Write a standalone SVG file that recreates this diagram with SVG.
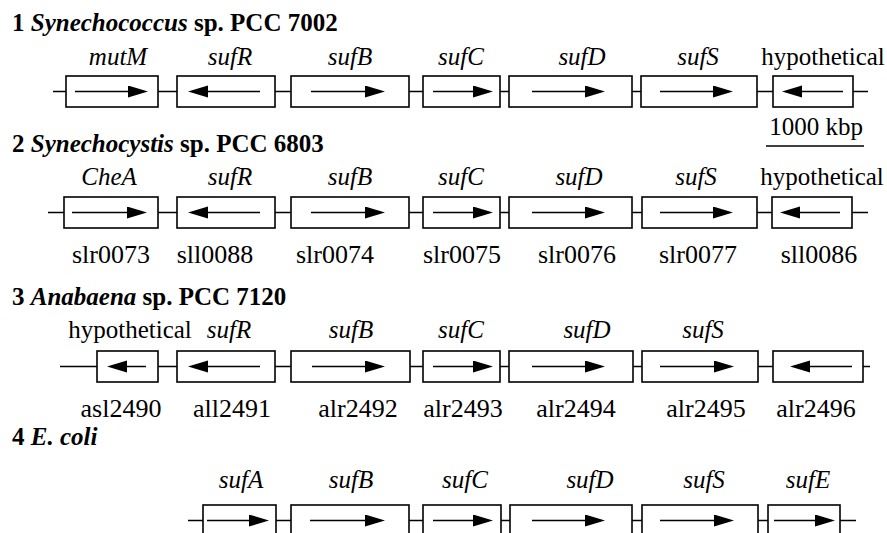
<svg xmlns="http://www.w3.org/2000/svg" width="887" height="533" viewBox="0 0 887 533">
<defs>
<marker id="head" markerUnits="userSpaceOnUse" markerWidth="22" markerHeight="14" refX="10" refY="6" orient="auto">
<path d="M0,0 L20,6 L0,12 Z" fill="#000"/>
</marker>
</defs>
<rect width="887" height="533" fill="#fff"/>

<g id="titles" fill="#000">
<text x="12" y="31" font-family="Liberation Serif" font-weight="bold" font-size="25">1 <tspan font-style="italic">Synechococcus</tspan> sp. PCC 7002</text>
<text x="12" y="152" font-family="Liberation Serif" font-weight="bold" font-size="25">2 <tspan font-style="italic">Synechocystis</tspan> sp. PCC 6803</text>
<text x="12" y="305" font-family="Liberation Serif" font-weight="bold" font-size="25">3 <tspan font-style="italic">Anabaena</tspan> sp. PCC  7120</text>
<text x="12" y="445" font-family="Liberation Serif" font-weight="bold" font-size="25">4 <tspan font-style="italic">E. coli</tspan></text>
</g>

<g id="connectors" stroke="#000" stroke-width="1.5">
<line x1="53" y1="91.5" x2="868" y2="91.5"/>
<line x1="48" y1="212.5" x2="868" y2="212.5"/>
<line x1="60" y1="366.5" x2="870" y2="366.5"/>
<line x1="188" y1="520.5" x2="856" y2="520.5"/>
</g>

<g id="scale">
<text x="816" y="135" font-family="Liberation Serif" font-size="25" text-anchor="middle" fill="#000">1000 kbp</text>
<line x1="766" y1="146" x2="864" y2="146" stroke="#000" stroke-width="1.5"/>
</g>

<g id="boxes" fill="#fff" stroke="#000" stroke-width="1.6">
<rect id="r1-mutM" x="66" y="76" width="92" height="31"/>
<rect id="r1-sufR" x="177" y="76" width="98" height="31"/>
<rect id="r1-sufB" x="291" y="76" width="118" height="31"/>
<rect id="r1-sufC" x="423" y="76" width="77" height="31"/>
<rect id="r1-sufD" x="509" y="76" width="123" height="31"/>
<rect id="r1-sufS" x="641" y="76" width="116" height="31"/>
<rect id="r1-hyp" x="773" y="76" width="80" height="31"/>
<rect id="r2-CheA" x="64" y="197" width="94" height="31"/>
<rect id="r2-sufR" x="177" y="197" width="98" height="31"/>
<rect id="r2-sufB" x="291" y="197" width="118" height="31"/>
<rect id="r2-sufC" x="423" y="197" width="77" height="31"/>
<rect id="r2-sufD" x="509" y="197" width="123" height="31"/>
<rect id="r2-sufS" x="642" y="197" width="115" height="31"/>
<rect id="r2-hyp" x="772" y="197" width="80" height="31"/>
<rect id="r3-hyp" x="97" y="351" width="61" height="31"/>
<rect id="r3-sufR" x="177" y="351" width="98" height="31"/>
<rect id="r3-sufB" x="291" y="351" width="119" height="31"/>
<rect id="r3-sufC" x="423" y="351" width="77" height="31"/>
<rect id="r3-sufD" x="509" y="351" width="124" height="31"/>
<rect id="r3-sufS" x="642" y="351" width="116" height="31"/>
<rect id="r3-alr2496" x="773" y="351" width="90" height="31"/>
<rect id="r4-sufA" x="203" y="505" width="73" height="40"/>
<rect id="r4-sufB" x="291" y="505" width="118" height="40"/>
<rect id="r4-sufC" x="423" y="505" width="78" height="40"/>
<rect id="r4-sufD" x="510" y="505" width="122" height="40"/>
<rect id="r4-sufS" x="642" y="505" width="116" height="40"/>
<rect id="r4-sufE" x="768" y="505" width="72" height="40"/>
</g>

<g id="arrows" stroke="#000" stroke-width="1.5" fill="none" marker-end="url(#head)">
<line x1="75" y1="91.5" x2="138" y2="91.5"/>
<line x1="260" y1="91.5" x2="198" y2="91.5"/>
<line x1="311" y1="91.5" x2="375" y2="91.5"/>
<line x1="433" y1="91.5" x2="483" y2="91.5"/>
<line x1="532" y1="91.5" x2="595" y2="91.5"/>
<line x1="660" y1="91.5" x2="723" y2="91.5"/>
<line x1="843" y1="91.5" x2="792" y2="91.5"/>
<line x1="72" y1="212.5" x2="137" y2="212.5"/>
<line x1="260" y1="212.5" x2="198" y2="212.5"/>
<line x1="311" y1="212.5" x2="375" y2="212.5"/>
<line x1="433" y1="212.5" x2="483" y2="212.5"/>
<line x1="532" y1="212.5" x2="595" y2="212.5"/>
<line x1="660" y1="212.5" x2="723" y2="212.5"/>
<line x1="840" y1="212.5" x2="790" y2="212.5"/>
<line x1="146" y1="366.5" x2="117" y2="366.5"/>
<line x1="260" y1="366.5" x2="198" y2="366.5"/>
<line x1="312" y1="366.5" x2="375" y2="366.5"/>
<line x1="433" y1="366.5" x2="483" y2="366.5"/>
<line x1="532" y1="366.5" x2="595" y2="366.5"/>
<line x1="660" y1="366.5" x2="724" y2="366.5"/>
<line x1="852" y1="366.5" x2="800" y2="366.5"/>
<line x1="207" y1="520.5" x2="259" y2="520.5"/>
<line x1="310" y1="520.5" x2="375" y2="520.5"/>
<line x1="433" y1="520.5" x2="483" y2="520.5"/>
<line x1="532" y1="520.5" x2="595" y2="520.5"/>
<line x1="660" y1="520.5" x2="724" y2="520.5"/>
<line x1="774" y1="520.5" x2="825" y2="520.5"/>
</g>

<g id="gene-names" fill="#000" text-anchor="middle">
<text x="118" y="65" font-family="Liberation Serif" font-size="25" font-style="italic">mutM</text>
<text x="230" y="65" font-family="Liberation Serif" font-size="25" font-style="italic">sufR</text>
<text x="350" y="65" font-family="Liberation Serif" font-size="25" font-style="italic">sufB</text>
<text x="461" y="65" font-family="Liberation Serif" font-size="25" font-style="italic">sufC</text>
<text x="582" y="65" font-family="Liberation Serif" font-size="25" font-style="italic">sufD</text>
<text x="698" y="65" font-family="Liberation Serif" font-size="25" font-style="italic">sufS</text>
<text x="823" y="65" font-family="Liberation Serif" font-size="25">hypothetical</text>
<text x="109" y="185" font-family="Liberation Serif" font-size="25" font-style="italic">CheA</text>
<text x="230" y="185" font-family="Liberation Serif" font-size="25" font-style="italic">sufR</text>
<text x="350" y="185" font-family="Liberation Serif" font-size="25" font-style="italic">sufB</text>
<text x="461" y="185" font-family="Liberation Serif" font-size="25" font-style="italic">sufC</text>
<text x="579" y="185" font-family="Liberation Serif" font-size="25" font-style="italic">sufD</text>
<text x="696" y="185" font-family="Liberation Serif" font-size="25" font-style="italic">sufS</text>
<text x="822" y="185" font-family="Liberation Serif" font-size="25">hypothetical</text>
<text x="130" y="338" font-family="Liberation Serif" font-size="25">hypothetical</text>
<text x="229" y="338" font-family="Liberation Serif" font-size="25" font-style="italic">sufR</text>
<text x="351" y="338" font-family="Liberation Serif" font-size="25" font-style="italic">sufB</text>
<text x="461" y="338" font-family="Liberation Serif" font-size="25" font-style="italic">sufC</text>
<text x="587" y="338" font-family="Liberation Serif" font-size="25" font-style="italic">sufD</text>
<text x="703" y="338" font-family="Liberation Serif" font-size="25" font-style="italic">sufS</text>
<text x="241" y="488" font-family="Liberation Serif" font-size="25" font-style="italic">sufA</text>
<text x="351" y="488" font-family="Liberation Serif" font-size="25" font-style="italic">sufB</text>
<text x="465" y="488" font-family="Liberation Serif" font-size="25" font-style="italic">sufC</text>
<text x="590" y="488" font-family="Liberation Serif" font-size="25" font-style="italic">sufD</text>
<text x="704" y="488" font-family="Liberation Serif" font-size="25" font-style="italic">sufS</text>
<text x="808" y="488" font-family="Liberation Serif" font-size="25" font-style="italic">sufE</text>
</g>

<g id="locus-tags" fill="#000" text-anchor="middle">
<text x="111" y="263" font-family="Liberation Serif" font-size="26">slr0073</text>
<text x="215" y="263" font-family="Liberation Serif" font-size="26">sll0088</text>
<text x="335" y="263" font-family="Liberation Serif" font-size="26">slr0074</text>
<text x="462" y="263" font-family="Liberation Serif" font-size="26">slr0075</text>
<text x="577" y="263" font-family="Liberation Serif" font-size="26">slr0076</text>
<text x="698" y="263" font-family="Liberation Serif" font-size="26">slr0077</text>
<text x="819" y="263" font-family="Liberation Serif" font-size="26">sll0086</text>
<text x="121" y="417" font-family="Liberation Serif" font-size="26">asl2490</text>
<text x="232" y="417" font-family="Liberation Serif" font-size="26">all2491</text>
<text x="358" y="417" font-family="Liberation Serif" font-size="26">alr2492</text>
<text x="463" y="417" font-family="Liberation Serif" font-size="26">alr2493</text>
<text x="576" y="417" font-family="Liberation Serif" font-size="26">alr2494</text>
<text x="706" y="417" font-family="Liberation Serif" font-size="26">alr2495</text>
<text x="816" y="417" font-family="Liberation Serif" font-size="26">alr2496</text>
</g>
</svg>
